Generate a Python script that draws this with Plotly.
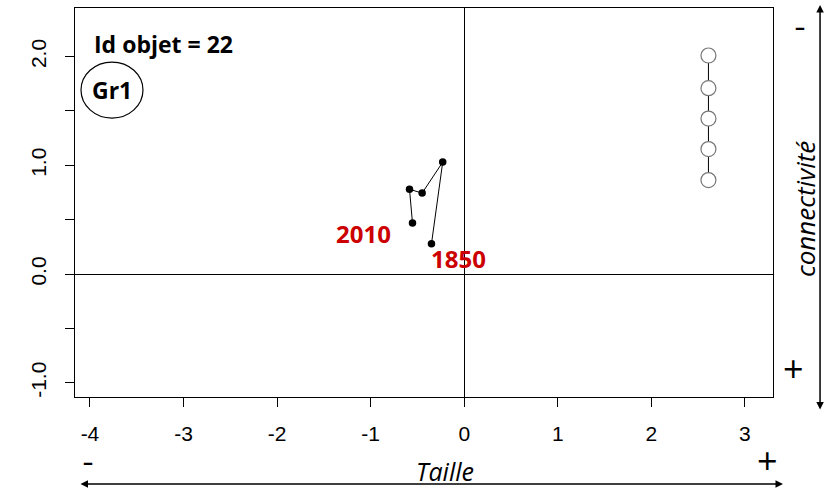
import plotly.graph_objects as go

# ---- data ----
taille = [-0.35, -0.23, -0.45, -0.585, -0.553]
connectivite = [0.28, 1.03, 0.745, 0.78, 0.47]
annees = ["1850", "", "", "", "2010"]

legende_x = [2.61, 2.61, 2.61, 2.61, 2.61]
legende_y = [2.01, 1.71, 1.43, 1.15, 0.865]

x_ticks = [-4, -3, -2, -1, 0, 1, 2, 3]
x_ticklabels = ["-4", "-3", "-2", "-1", "0", "1", "2", "3"]
y_ticks = [-1.0, -0.5, 0.0, 0.5, 1.0, 1.5, 2.0]
y_ticklabels = ["-1.0", "", "0.0", "", "1.0", "", "2.0"]

id_objet = "Id objet = 22"
groupe = "Gr1"

fig = go.Figure()

fig.add_trace(go.Scatter(
    x=legende_x, y=legende_y, mode="lines+markers",
    line=dict(color="black", width=1),
    marker=dict(size=15, color="white", line=dict(color="#777777", width=1.2)),
    showlegend=False, hoverinfo="skip"))

fig.add_trace(go.Scatter(
    x=taille, y=connectivite, mode="lines+markers",
    line=dict(color="black", width=1),
    marker=dict(size=7.5, color="black"),
    showlegend=False))

red = "#CC0000"
lab_font = dict(family="Open Sans, Lato, sans-serif", size=24, color=red)
fig.add_annotation(x=taille[0], y=connectivite[0], text="<b>" + annees[0] + "</b>",
                   showarrow=False, xanchor="left", yanchor="middle",
                   xshift=-2, yshift=-15, font=lab_font)
fig.add_annotation(x=taille[-1], y=connectivite[-1], text="<b>" + annees[-1] + "</b>",
                   showarrow=False, xanchor="right", yanchor="middle",
                   xshift=-19, yshift=-10, font=lab_font)

blk_font = dict(family="Open Sans, Lato, sans-serif", size=23, color="black")
fig.add_annotation(xref="paper", yref="paper", x=0.0245, y=0.907, text="<b>" + id_objet + "</b>",
                   showarrow=False, xanchor="left", yanchor="middle", font=blk_font)
fig.add_annotation(xref="paper", yref="paper", x=0.053, y=0.789, text="<b>" + groupe + "</b>",
                   showarrow=False, xanchor="center", yanchor="middle", font=blk_font)
fig.add_shape(type="circle", xref="paper", yref="paper",
              x0=0.0086, x1=0.0974, y0=0.717, y1=0.861,
              line=dict(color="black", width=1.2))

# axis direction annotations
side_font = dict(family="Open Sans, Lato, sans-serif", size=25, color="black")
fig.add_annotation(xref="paper", yref="paper", x=1.0674, y=1.0077, ax=0, ay=406,
                   text="", showarrow=True, arrowhead=2, arrowside="end+start",
                   arrowwidth=1.5, arrowsize=1, arrowcolor="black")
fig.add_annotation(xref="paper", yref="paper", x=1.0143, y=-0.2237, ax=-704, ay=0,
                   text="", showarrow=True, arrowhead=2, arrowside="end+start",
                   arrowwidth=1.5, arrowsize=1, arrowcolor="black")
pm_font = dict(family="Open Sans, sans-serif", size=36, color="black")
dash_font = dict(family="Open Sans, sans-serif", size=20, color="black")
fig.add_annotation(xref="paper", yref="paper", x=1.0387, y=0.952, text="<b>–</b>",
                   showarrow=False, xanchor="center", yanchor="middle", font=dash_font)
fig.add_annotation(xref="paper", yref="paper", x=1.030, y=0.072, text="+",
                   showarrow=False, xanchor="center", yanchor="middle", font=pm_font)
fig.add_annotation(xref="paper", yref="paper", x=1.0458, y=0.483, text="<i>connectivité</i>",
                   textangle=-90, showarrow=False, xanchor="center", yanchor="middle",
                   font=dict(family="Open Sans, Lato, sans-serif", size=26, color="black"))
fig.add_annotation(xref="paper", yref="paper", x=0.0186, y=-0.167, text="<b>–</b>",
                   showarrow=False, xanchor="center", yanchor="middle", font=dash_font)
fig.add_annotation(xref="paper", yref="paper", x=0.9928, y=-0.1645, text="+",
                   showarrow=False, xanchor="center", yanchor="middle", font=pm_font)
fig.add_annotation(xref="paper", yref="paper", x=0.530, y=-0.190, text="<i>Taille</i>",
                   showarrow=False, xanchor="center", yanchor="middle", font=side_font)

tick_font = dict(family="Liberation Sans, Arial, sans-serif", size=21, color="black")
fig.update_xaxes(range=[-4.16, 3.30], tickvals=x_ticks, ticktext=x_ticklabels,
                 ticks="outside", ticklen=9,
                 tickcolor="black", tickfont=tick_font, showgrid=False,
                 zeroline=True, zerolinecolor="black", zerolinewidth=1,
                 showline=True, linecolor="black", linewidth=1, mirror=True,
                 ticklabelstandoff=9)
fig.update_yaxes(range=[-1.13, 2.447], tickvals=y_ticks, ticktext=y_ticklabels,
                 ticks="outside", ticklen=9, tickangle=-90,
                 tickcolor="black", tickfont=tick_font, showgrid=False,
                 zeroline=True, zerolinecolor="black", zerolinewidth=1,
                 showline=True, linecolor="black", linewidth=1, mirror=True,
                 ticklabelstandoff=11)

fig.update_layout(width=830, height=494,
                  margin=dict(l=75, r=57, t=8, b=97, autoexpand=False),
                  plot_bgcolor="white", paper_bgcolor="white")

fig.write_html("out.html", config={"displayModeBar": False},
               post_script="document.body.style.margin='0';document.body.style.overflow='hidden';")
